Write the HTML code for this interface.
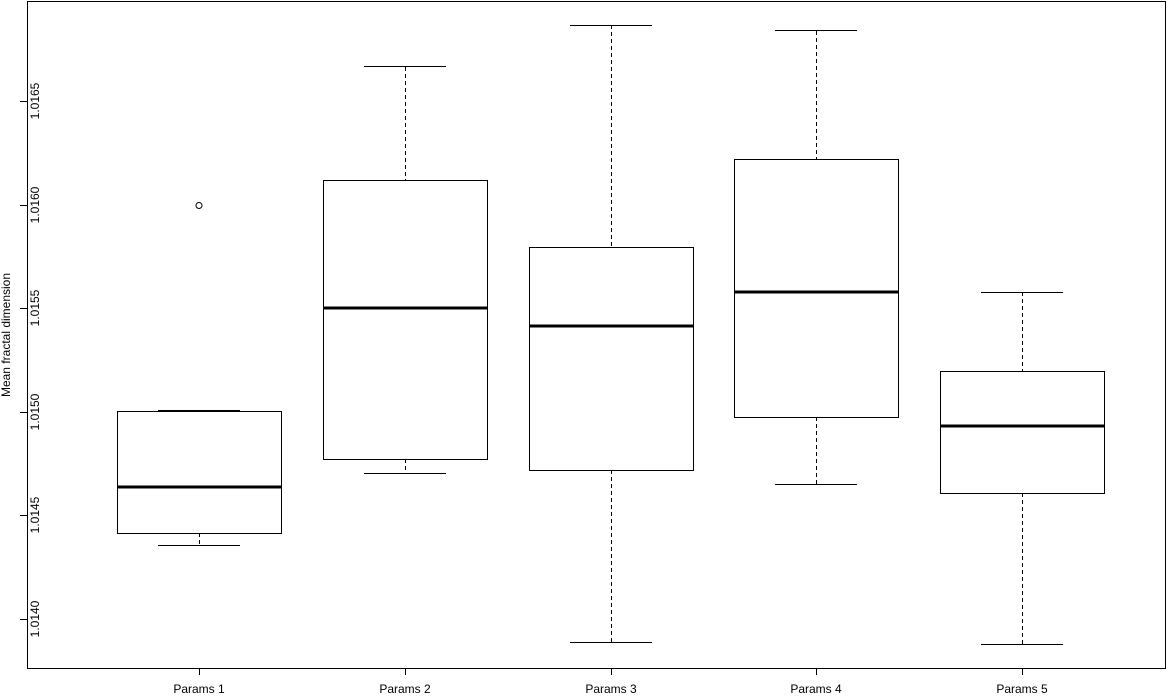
<!DOCTYPE html>
<html><head><style>body{margin:0;background:#fff}</style></head><body>
<svg width="1167" height="694" xmlns="http://www.w3.org/2000/svg" font-family="Liberation Sans, sans-serif" font-size="12">
<rect x="27.5" y="1.5" width="1138" height="667" fill="none" stroke="#000"/>
<g stroke="#000">
<line x1="20" y1="619.5" x2="27" y2="619.5"/><line x1="20" y1="515.5" x2="27" y2="515.5"/>
<line x1="20" y1="412.5" x2="27" y2="412.5"/><line x1="20" y1="308.5" x2="27" y2="308.5"/>
<line x1="20" y1="205.5" x2="27" y2="205.5"/><line x1="20" y1="101.5" x2="27" y2="101.5"/>
<line x1="199.5" y1="668" x2="199.5" y2="675"/><line x1="405.5" y1="668" x2="405.5" y2="675"/>
<line x1="611.5" y1="668" x2="611.5" y2="675"/><line x1="816.5" y1="668" x2="816.5" y2="675"/>
<line x1="1022.5" y1="668" x2="1022.5" y2="675"/>
</g>
<g text-anchor="middle">
<text transform="translate(39,619) rotate(-90)">1.0140</text>
<text transform="translate(39,515) rotate(-90)">1.0145</text>
<text transform="translate(39,412) rotate(-90)">1.0150</text>
<text transform="translate(39,308) rotate(-90)">1.0155</text>
<text transform="translate(39,205) rotate(-90)">1.0160</text>
<text transform="translate(39,101) rotate(-90)">1.0165</text>
<text transform="translate(10,335) rotate(-90)">Mean fractal dimension</text>
<text x="199" y="693">Params 1</text><text x="405" y="693">Params 2</text>
<text x="611" y="693">Params 3</text><text x="816" y="693">Params 4</text>
<text x="1022" y="693">Params 5</text>
</g>
<g stroke="#000" fill="none">
<!-- box1 -->
<line x1="199.5" y1="533" x2="199.5" y2="545" stroke-dasharray="4,3"/>
<line x1="158" y1="545.5" x2="240" y2="545.5"/><line x1="158" y1="410.5" x2="240" y2="410.5"/>
<rect x="117.5" y="411.5" width="164" height="122"/>
<line x1="117" y1="487" x2="282" y2="487" stroke-width="3"/>
<circle cx="199" cy="205.5" r="3"/>
<!-- box2 -->
<line x1="405.5" y1="67" x2="405.5" y2="181" stroke-dasharray="4,3"/>
<line x1="405.5" y1="459" x2="405.5" y2="473" stroke-dasharray="4,3"/>
<line x1="364" y1="66.5" x2="446" y2="66.5"/><line x1="364" y1="473.5" x2="446" y2="473.5"/>
<rect x="323.5" y="180.5" width="164" height="279"/>
<line x1="323" y1="308" x2="488" y2="308" stroke-width="3"/>
<!-- box3 -->
<line x1="611.5" y1="25" x2="611.5" y2="248" stroke-dasharray="4,3"/>
<line x1="611.5" y1="470" x2="611.5" y2="642" stroke-dasharray="4,3"/>
<line x1="570" y1="25.5" x2="652" y2="25.5"/><line x1="570" y1="642.5" x2="652" y2="642.5"/>
<rect x="529.5" y="247.5" width="164" height="223"/>
<line x1="529" y1="326" x2="694" y2="326" stroke-width="3"/>
<!-- box4 -->
<line x1="816.5" y1="31" x2="816.5" y2="159" stroke-dasharray="4,3"/>
<line x1="816.5" y1="417" x2="816.5" y2="484" stroke-dasharray="4,3"/>
<line x1="775" y1="30.5" x2="857" y2="30.5"/><line x1="775" y1="484.5" x2="857" y2="484.5"/>
<rect x="734.5" y="159.5" width="164" height="258"/>
<line x1="734" y1="292" x2="899" y2="292" stroke-width="3"/>
<!-- box5 -->
<line x1="1022.5" y1="292" x2="1022.5" y2="371" stroke-dasharray="4,3"/>
<line x1="1022.5" y1="493" x2="1022.5" y2="644" stroke-dasharray="4,3"/>
<line x1="981" y1="292.5" x2="1063" y2="292.5"/><line x1="981" y1="644.5" x2="1063" y2="644.5"/>
<rect x="940.5" y="371.5" width="164" height="122"/>
<line x1="940" y1="426" x2="1105" y2="426" stroke-width="3"/>
</g>
</svg>
</body></html>
